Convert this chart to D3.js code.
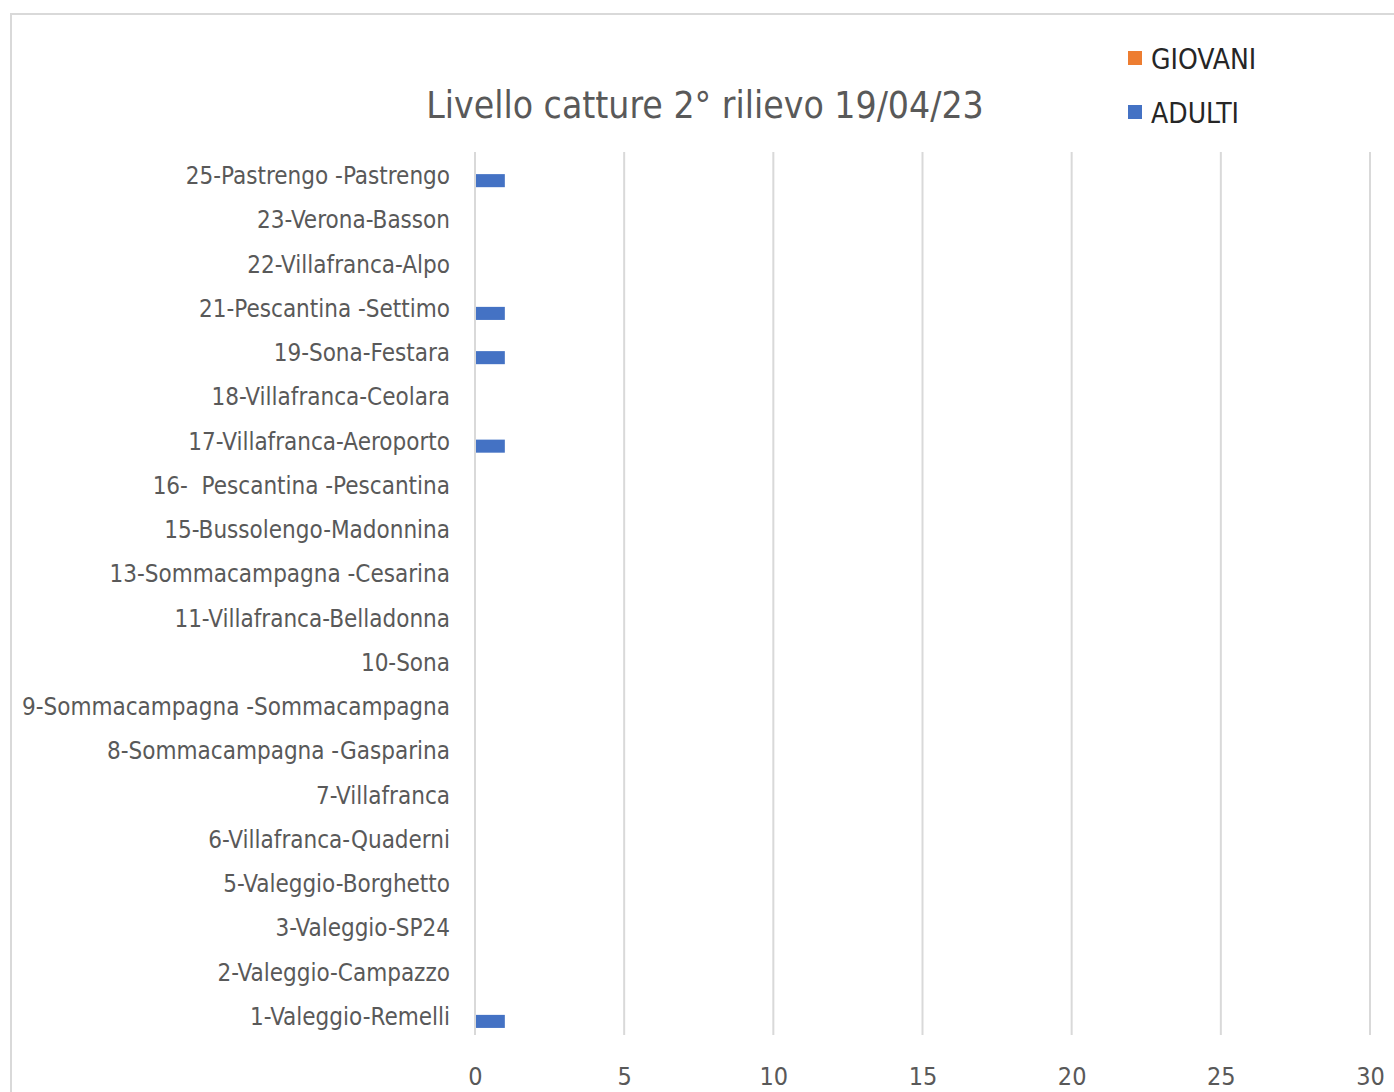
<!DOCTYPE html>
<html>
<head>
<meta charset="utf-8">
<script src="https://cdn.jsdelivr.net/npm/d3@7"></script>
<style>
body { margin: 0; background: #fff; }
text { font-family: "DejaVu Sans", sans-serif; font-stretch: condensed; white-space: pre; }
</style>
</head>
<body>
<div id="chart"></div>
<script>
var categories = [
  "25-Pastrengo -Pastrengo", "23-Verona-Basson", "22-Villafranca-Alpo",
  "21-Pescantina -Settimo", "19-Sona-Festara", "18-Villafranca-Ceolara",
  "17-Villafranca-Aeroporto", "16-  Pescantina -Pescantina", "15-Bussolengo-Madonnina",
  "13-Sommacampagna -Cesarina", "11-Villafranca-Belladonna", "10-Sona",
  "9-Sommacampagna -Sommacampagna", "8-Sommacampagna -Gasparina", "7-Villafranca",
  "6-Villafranca-Quaderni", "5-Valeggio-Borghetto", "3-Valeggio-SP24",
  "2-Valeggio-Campazzo", "1-Valeggio-Remelli"
];
var giovani = [0, 0, 0, 0, 0, 0, 0, 0, 0, 0, 0, 0, 0, 0, 0, 0, 0, 0, 0, 0];
var adulti  = [1, 0, 0, 1, 1, 0, 1, 0, 0, 0, 0, 0, 0, 0, 0, 0, 0, 0, 0, 1];
var seriesNames = ["GIOVANI", "ADULTI"];
var seriesColors = ["#ed7d31", "#4472c4"];
var xTicks = [0, 5, 10, 15, 20, 25, 30];

var width = 1394, height = 1092;
var svg = d3.select("#chart").append("svg")
    .attr("width", width)
    .attr("height", height);

// chart area border
svg.append("rect")
    .attr("x", 11).attr("y", 14)
    .attr("width", 1400).attr("height", 1100)
    .attr("fill", "none")
    .attr("stroke", "#d9d9d9")
    .attr("stroke-width", 2);

var plotLeft = 475, plotRight = 1370, plotTop = 152, plotBottom = 1037;

var xScale = d3.scaleLinear().domain([0, 30]).range([plotLeft, plotRight]);
var yScale = d3.scaleBand().domain(categories).range([plotTop, plotBottom]).paddingInner(0.41).paddingOuter(0.205);
var inner = d3.scaleBand().domain(seriesNames).range([0, yScale.bandwidth()]);

// gridlines
svg.append("g").selectAll("line")
    .data(xTicks)
    .enter().append("line")
    .attr("x1", function(d) { return xScale(d); })
    .attr("x2", function(d) { return xScale(d); })
    .attr("y1", plotTop).attr("y2", plotBottom - 2)
    .attr("stroke", "#d9d9d9")
    .attr("stroke-width", 2);

// bars
var rows = categories.map(function(c, i) { return {cat: c, vals: [giovani[i], adulti[i]]}; });
var groups = svg.append("g").selectAll("g")
    .data(rows)
    .enter().append("g")
    .attr("transform", function(d) { return "translate(0," + yScale(d.cat) + ")"; });
groups.selectAll("rect")
    .data(function(d) { return d.vals.map(function(v, j) { return {name: seriesNames[j], v: v, j: j}; }); })
    .enter().append("rect")
    .filter(function(d) { return d.v > 0; })
    .attr("x", xScale(0) + 1)
    .attr("y", function(d) { return inner(d.name); })
    .attr("width", function(d) { return xScale(d.v) - xScale(0) - 1; })
    .attr("height", inner.bandwidth())
    .attr("fill", function(d) { return seriesColors[d.j]; });

// category labels
var yAxis = d3.axisLeft(yScale).tickSize(0).tickPadding(25);
var yg = svg.append("g").attr("transform", "translate(" + plotLeft + ",0)").call(yAxis);
yg.select(".domain").remove();
yg.selectAll("text")
    .attr("font-size", 24)
    .attr("dy", "0.42em")
    .attr("fill", "#595959")
    .style("font-family", "'DejaVu Sans', sans-serif");

// x tick labels
var xAxis = d3.axisBottom(xScale).tickValues(xTicks).tickSize(0).tickPadding(30);
var xg = svg.append("g").attr("transform", "translate(0," + plotBottom + ")").call(xAxis);
xg.select(".domain").remove();
xg.selectAll("text")
    .attr("font-size", 25)
    .attr("fill", "#595959")
    .style("font-family", "'DejaVu Sans', sans-serif");

// title
svg.append("text")
    .text("Livello catture 2° rilievo 19/04/23")
    .attr("x", 705).attr("y", 118)
    .attr("text-anchor", "middle")
    .attr("font-size", 37)
    .attr("fill", "#595959");

// legend
var legend = svg.append("g").selectAll("g")
    .data(seriesNames)
    .enter().append("g")
    .attr("transform", function(d, i) { return "translate(1128," + (51 + i * 54) + ")"; });
legend.append("rect")
    .attr("width", 14).attr("height", 14)
    .attr("fill", function(d, i) { return seriesColors[i]; });
legend.append("text")
    .text(function(d) { return d; })
    .attr("x", 23).attr("y", 18)
    .attr("font-size", 28)
    .attr("fill", "#262626");
</script>
</body>
</html>
